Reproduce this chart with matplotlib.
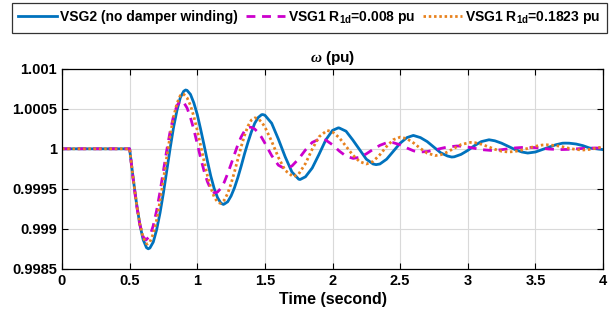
import matplotlib
matplotlib.use("Agg")
import matplotlib.pyplot as plt
import numpy as np

# omega deviation from 1 pu, in units of 1e-5 pu
t_vsg2 = [0, 0.5, 0.525, 0.55, 0.575, 0.6, 0.625, 0.638, 0.65, 0.675, 0.7, 0.725, 0.75, 0.775,
          0.8, 0.825, 0.85, 0.875, 0.9, 0.914, 0.925, 0.95, 0.975, 1.0, 1.025, 1.05, 1.075,
          1.1, 1.125, 1.15, 1.175, 1.193, 1.2, 1.225, 1.25, 1.275, 1.3, 1.325, 1.35, 1.375,
          1.4, 1.425, 1.45, 1.475, 1.484, 1.5, 1.55, 1.6, 1.65, 1.7,
          1.75, 1.76, 1.8, 1.85, 1.9, 1.95, 2.0, 2.043, 2.05, 2.1, 2.15, 2.2, 2.25, 2.3, 2.322,
          2.35, 2.4, 2.45, 2.5, 2.55, 2.597, 2.6, 2.65, 2.7, 2.75, 2.8, 2.85, 2.881, 2.9, 2.95,
          3.0, 3.05, 3.1, 3.157, 3.2, 3.25, 3.3, 3.35, 3.4, 3.443, 3.5, 3.55, 3.6, 3.65, 3.7,
          3.719, 3.75, 3.8, 3.85, 3.9, 3.95, 4.0]
w_vsg2 = [0, 0, -35, -67, -94, -113.5, -123.6, -125, -124, -116.5, -101, -80, -55, -27,
          1, 27, 48, 64, 72, 73.5, 73, 68, 57.3, 43, 24.5, 5, -15.2,
          -34, -49.5, -61, -68, -69.5, -69, -66.2, -59, -48.8, -36, -21.5, -6, 8.1,
          21, 31.9, 39, 42.6, 42.8, 42, 32, 12, -10, -29,
          -38, -38.4, -35, -24, -7, 11, 23, 26.2, 26, 22, 11, -1, -13, -19, -19.8,
          -19, -13, -3, 7, 14, 16.7, 16.6, 14, 9, 2, -5, -9, -10.3, -10, -7,
          -2, 4, 9, 11.3, 10, 7, 3, -1, -4, -5.3, -4, -1, 2, 5, 7,
          7.1, 7, 6, 4, 1, 0, -1]

t_r008 = [0, 0.5, 0.525, 0.55, 0.575, 0.6, 0.621, 0.65, 0.675, 0.7, 0.725, 0.75, 0.775,
          0.8, 0.825, 0.85, 0.875, 0.88, 0.9, 0.925, 0.95, 0.975, 1.0, 1.025, 1.05, 1.075,
          1.1, 1.125, 1.131, 1.15, 1.175, 1.2, 1.225, 1.25, 1.275, 1.3, 1.325, 1.35, 1.375,
          1.39, 1.4, 1.425, 1.45, 1.475, 1.5, 1.55, 1.6, 1.649, 1.7,
          1.75, 1.8, 1.85, 1.908, 1.95, 2.0, 2.05, 2.1, 2.153, 2.2, 2.25, 2.3, 2.35, 2.4, 2.425,
          2.45, 2.5, 2.55, 2.6, 2.65, 2.7, 2.75, 2.8, 2.85, 2.92, 2.95, 3.0, 3.05, 3.1, 3.17,
          3.2, 3.25, 3.3, 3.35, 3.43, 3.5, 3.55, 3.6, 3.68, 3.75, 3.8, 3.85, 3.94, 4.0]
w_r008 = [0, 0, -36.4, -69, -94.3, -110, -114, -109, -96, -77, -53.6, -27.5, -1.4,
          22, 41, 54, 59.8, 60, 58, 51, 39, 24, 6.4, -11.4, -27.6, -41,
          -50.7, -54.9, -55, -54, -49.3, -41.6, -31, -19.3, -7, 5, 15, 22.4, 26.3,
          27, 26.8, 24.7, 20.4, 14.5, 7.1, -8.4, -20.5, -25, -21.5,
          -12.6, -1.4, 8, 12.6, 10.9, 5, -2.8, -9.2, -12, -10.6, -6.3, -0.7, 4.3, 7.6, 8,
          7.6, 5, 1, -2.6, -4, -3.4, -1.7, 0.4, 2.3, 3.5, 3.3, 2.2, 0.6, -1.0, -2,
          -1.9, -1.1, 0, 1.1, 2, 1.5, 0.6, -0.3, -1, -0.66, -0.1, 0.45, 1, 0.8]

t_r1823 = [0, 0.5, 0.525, 0.55, 0.575, 0.6, 0.625, 0.631, 0.65, 0.675, 0.7, 0.725, 0.75, 0.775,
           0.8, 0.825, 0.85, 0.875, 0.892, 0.9, 0.925, 0.95, 0.975, 1.0, 1.025, 1.05, 1.075,
           1.1, 1.125, 1.15, 1.168, 1.175, 1.2, 1.225, 1.25, 1.275, 1.3, 1.325, 1.35, 1.375,
           1.4, 1.427, 1.45, 1.475, 1.5, 1.55, 1.6, 1.65, 1.71,
           1.75, 1.8, 1.85, 1.9, 1.96, 2.0, 2.05, 2.1, 2.15, 2.2, 2.25, 2.3, 2.35, 2.4, 2.45,
           2.5, 2.55, 2.6, 2.65, 2.7, 2.76, 2.8, 2.85, 2.9, 2.95, 3.02, 3.05, 3.1, 3.15, 3.2,
           3.25, 3.3, 3.35, 3.4, 3.45, 3.5, 3.55, 3.584, 3.65, 3.7, 3.75, 3.8, 3.854, 3.9, 3.95, 4.0]
w_r1823 = [0, 0, -35.1, -67, -93.2, -111, -118.7, -119, -116.6, -106.2, -88.8, -65.2, -38.2, -10,
           16.8, 40, 56.7, 66.6, 68.5, 68.2, 63.7, 54.3, 40.2, 23.3, 4.1, -15, -33.5,
           -48.5, -60.1, -66.6, -68, -67.8, -64.1, -55.8, -43.6, -29, -13, 2.7, 16.9, 28.5,
           35.9, 38.7, 37.5, 33.6, 27.3, 9.4, -10.8, -27, -35,
           -31.5, -18.4, -0.5, 15, 23, 21.1, 13.8, 3.1, -7.8, -16, -19, -15.8, -7.4, 3, 11.4,
           14.6, 12.6, 7.2, 0.4, -5.5, -8.4, -7.5, -4, 0.8, 5.3, 8, 7.7, 5.7, 2.7, -0.6,
           -3.1, -4, -3.3, -1.5, 0.9, 3.2, 4.7, 5, 4.1, 2.5, 0.6, -0.9, -1.5, -0.8, 0.8, 2.5]

labels = ["VSG2 (no damper winding)", "VSG1 R$_{\\mathbf{1d}}$=0.008 pu", "VSG1 R$_{\\mathbf{1d}}$=0.1823 pu"]
y_ticks = [0.9985, 0.999, 0.9995, 1, 1.0005, 1.001]
y_tick_labels = ["0.9985", "0.999", "0.9995", "1", "1.0005", "1.001"]
x_ticks = [0, 0.5, 1, 1.5, 2, 2.5, 3, 3.5, 4]
x_tick_labels = ["0", "0.5", "1", "1.5", "2", "2.5", "3", "3.5", "4"]

plt.rcParams['font.family'] = ['Liberation Sans', 'DejaVu Sans']
plt.rcParams['font.weight'] = 'bold'
plt.rcParams['mathtext.fontset'] = 'custom'
plt.rcParams['mathtext.rm'] = 'Liberation Sans:bold'
plt.rcParams['mathtext.bf'] = 'Liberation Sans:bold'
plt.rcParams['mathtext.it'] = 'Liberation Serif:italic'


def to_pu(v):
    return 1 + np.array(v) * 1e-5


fig = plt.figure(figsize=(6.16, 3.2), dpi=100)
ax = fig.add_axes([0.1006, 0.16, 0.8784, 0.625])

l1, = ax.plot(t_vsg2, to_pu(w_vsg2), color='#0072BD', lw=2.0, solid_joinstyle='round')
l2, = ax.plot(t_r008, to_pu(w_r008), color='#CC00CC', lw=2.0, ls=(0, (3.2, 2.4)))
l3, = ax.plot(t_r1823, to_pu(w_r1823), color='#E8821E', lw=2.0, ls=(0, (0.9, 1.0)))

ax.set_xlim(0, 4)
ax.set_ylim(0.9985, 1.001)
ax.set_xticks(x_ticks)
ax.set_xticklabels(x_tick_labels)
ax.set_yticks(y_ticks)
ax.set_yticklabels(y_tick_labels)
ax.tick_params(direction='in', top=True, right=True, labelsize=10.5, length=4, width=0.8)
for lab in ax.get_xticklabels() + ax.get_yticklabels():
    lab.set_fontweight('bold')
ax.grid(True, color='#D9D9D9', lw=0.8)
for s in ax.spines.values():
    s.set_linewidth(0.9)

ax.set_title("$\\mathit{\\omega}$ (pu)", fontsize=11, fontweight='bold', pad=5)
ax.set_xlabel("Time (second)", fontsize=11.5, fontweight='bold', labelpad=3)

leg = fig.legend([l1, l2, l3], labels, loc='upper center', bbox_to_anchor=(0.502, 1.012), ncol=3,
                 frameon=True, fancybox=False, edgecolor='black',
                 handlelength=2.8, handletextpad=0.25, columnspacing=0.55, borderpad=0.45,
                 prop={'weight': 'bold', 'size': 10})
leg.get_frame().set_linewidth(0.9)

fig.savefig("out.png", dpi=100)
